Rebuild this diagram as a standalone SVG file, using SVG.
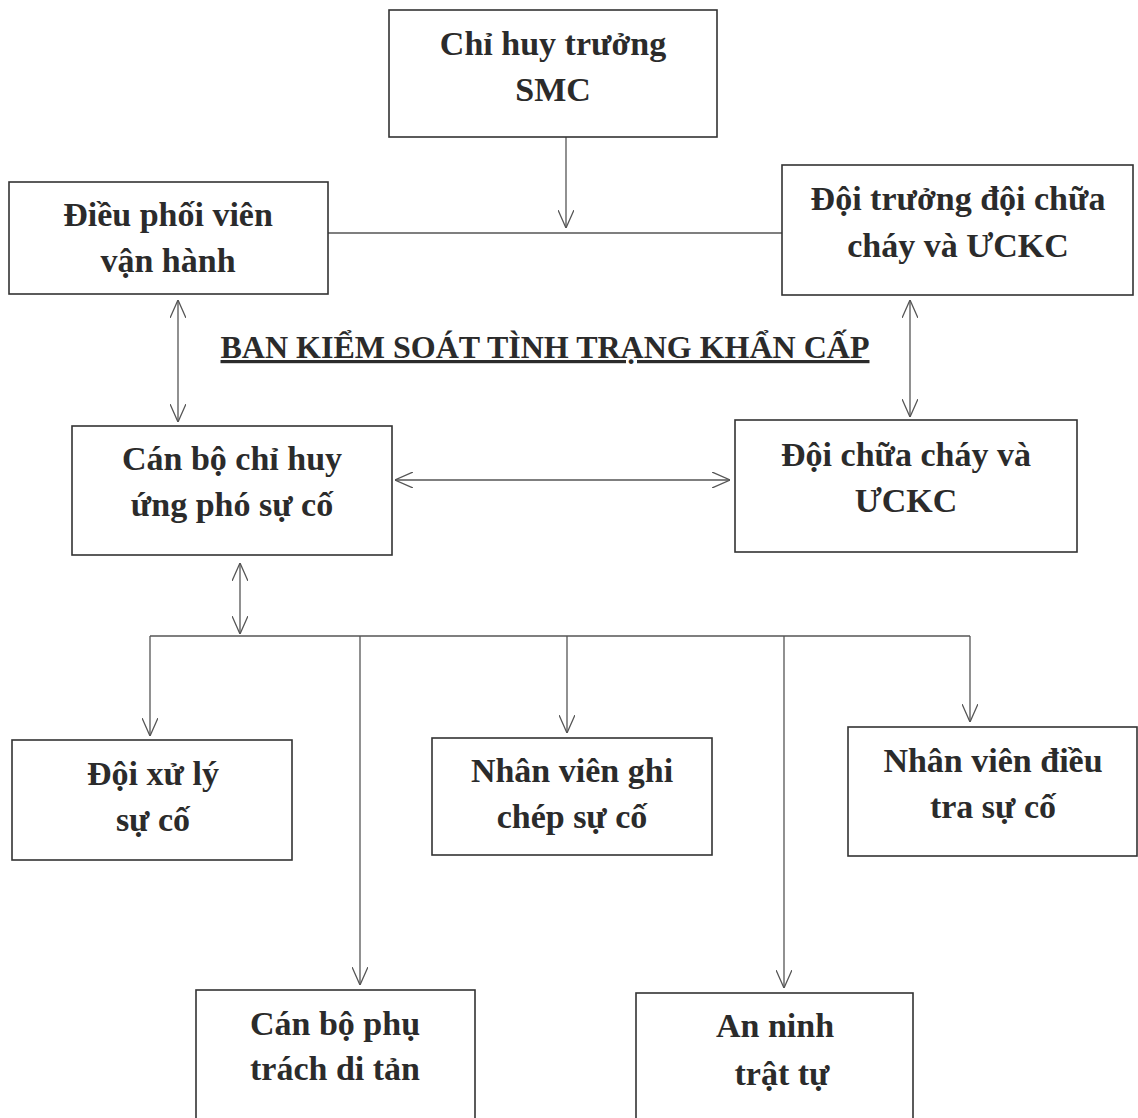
<svg xmlns="http://www.w3.org/2000/svg" width="1138" height="1118" viewBox="0 0 1138 1118">
  <defs>
    <style>
      .box { fill: #ffffff; stroke: #333333; stroke-width: 1.6; }
      .lbl { font-family: "Liberation Serif", "Times New Roman", serif; font-weight: bold; font-size: 34px; fill: #2b2b2b; text-anchor: middle; }
      .title { font-family: "Liberation Serif", "Times New Roman", serif; font-weight: bold; font-size: 32px; fill: #2b2b2b; text-anchor: middle; text-decoration: underline; }
      .wire { fill: none; stroke: #555555; stroke-width: 1.3; }
    </style>
    <marker id="arrow" viewBox="0 0 18 16" refX="18" refY="8" markerWidth="18" markerHeight="16" markerUnits="userSpaceOnUse" orient="auto-start-reverse">
      <path d="M0,0 L18,8 L0,16" fill="none" stroke="#555555" stroke-width="1.3"/>
    </marker>
  </defs>
  <rect width="1138" height="1118" fill="#ffffff"/>

  <!-- connectors -->
  <g id="connectors">
    <line class="wire" x1="566" y1="137" x2="566" y2="228" marker-end="url(#arrow)"/>
    <line class="wire" x1="328" y1="233" x2="782" y2="233"/>
    <line class="wire" x1="178" y1="300" x2="178" y2="422" marker-start="url(#arrow)" marker-end="url(#arrow)"/>
    <line class="wire" x1="910" y1="300" x2="910" y2="417" marker-start="url(#arrow)" marker-end="url(#arrow)"/>
    <line class="wire" x1="395" y1="480" x2="730" y2="480" marker-start="url(#arrow)" marker-end="url(#arrow)"/>
    <line class="wire" x1="240" y1="563" x2="240" y2="634" marker-start="url(#arrow)" marker-end="url(#arrow)"/>
    <line class="wire" x1="150" y1="636" x2="970" y2="636"/>
    <line class="wire" x1="150" y1="636" x2="150" y2="736" marker-end="url(#arrow)"/>
    <line class="wire" x1="360" y1="636" x2="360" y2="985" marker-end="url(#arrow)"/>
    <line class="wire" x1="567" y1="636" x2="567" y2="733" marker-end="url(#arrow)"/>
    <line class="wire" x1="784" y1="636" x2="784" y2="988" marker-end="url(#arrow)"/>
    <line class="wire" x1="970" y1="636" x2="970" y2="722" marker-end="url(#arrow)"/>
  </g>

  <!-- title of the committee -->
  <text class="title" x="545" y="358">BAN KIỂM SOÁT TÌNH TRẠNG KHẨN CẤP</text>

  <!-- nodes -->
  <g id="chi-huy-truong">
    <rect class="box" x="389" y="10" width="328" height="127"/>
    <text class="lbl" x="553" y="55">Chỉ huy trưởng</text>
    <text class="lbl" x="553" y="101">SMC</text>
  </g>
  <g id="dieu-phoi-vien">
    <rect class="box" x="9" y="182" width="319" height="112"/>
    <text class="lbl" x="168" y="226">Điều phối viên</text>
    <text class="lbl" x="168" y="272">vận hành</text>
  </g>
  <g id="doi-truong">
    <rect class="box" x="782" y="165" width="351" height="130"/>
    <text class="lbl" x="958" y="210">Đội trưởng đội chữa</text>
    <text class="lbl" x="958" y="257">cháy và ƯCKC</text>
  </g>
  <g id="doi-chua-chay">
    <rect class="box" x="735" y="420" width="342" height="132"/>
    <text class="lbl" x="906" y="466">Đội chữa cháy và</text>
    <text class="lbl" x="906" y="512">ƯCKC</text>
  </g>
  <g id="can-bo-chi-huy">
    <rect class="box" x="72" y="426" width="320" height="129"/>
    <text class="lbl" x="232" y="470">Cán bộ chỉ huy</text>
    <text class="lbl" x="232" y="516">ứng phó sự cố</text>
  </g>
  <g id="doi-xu-ly">
    <rect class="box" x="12" y="740" width="280" height="120"/>
    <text class="lbl" x="153" y="785">Đội xử lý</text>
    <text class="lbl" x="153" y="831">sự cố</text>
  </g>
  <g id="nhan-vien-ghi-chep">
    <rect class="box" x="432" y="738" width="280" height="117"/>
    <text class="lbl" x="572" y="782">Nhân viên ghi</text>
    <text class="lbl" x="572" y="828">chép sự cố</text>
  </g>
  <g id="nhan-vien-dieu-tra">
    <rect class="box" x="848" y="727" width="289" height="129"/>
    <text class="lbl" x="993" y="772">Nhân viên điều</text>
    <text class="lbl" x="993" y="818">tra sự cố</text>
  </g>
  <g id="can-bo-di-tan">
    <rect class="box" x="196" y="990" width="279" height="140"/>
    <text class="lbl" x="335" y="1035">Cán bộ phụ</text>
    <text class="lbl" x="335" y="1080">trách di tản</text>
  </g>
  <g id="an-ninh">
    <rect class="box" x="636" y="993" width="277" height="140"/>
    <text class="lbl" x="775" y="1037">An ninh</text>
    <text class="lbl" x="782" y="1085">trật tự</text>
  </g>
</svg>
